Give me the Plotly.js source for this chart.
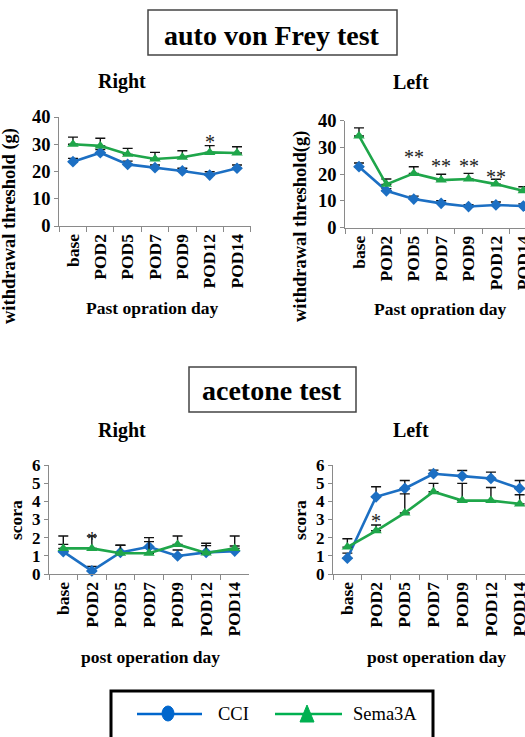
<!DOCTYPE html>
<html>
<head>
<meta charset="utf-8">
<script src="https://cdn.plot.ly/plotly-3.0.1.min.js"></script>
<style>
html,body{margin:0;padding:0;overflow:hidden;background:#fff;}
#chart{width:560px;height:737px;}
</style>
</head>
<body>
<div id="chart"></div>
<script>
// ---------- data ----------
const categories = ['base','POD2','POD5','POD7','POD9','POD12','POD14'];

const vfRightCCI      = [23.6, 26.9, 22.6, 21.4, 20.2, 18.7, 21.2];
const vfRightCCIErr   = [1.2, 1.2, 1.2, 1.0, 1.0, 1.2, 1.2];
const vfRightSema     = [30.0, 29.4, 26.3, 24.6, 25.2, 27.0, 26.8];
const vfRightSemaErr  = [2.6, 2.8, 2.2, 2.4, 2.4, 2.5, 2.3];

const vfLeftCCI       = [22.8, 13.8, 10.7, 9.1, 7.9, 8.5, 8.1];
const vfLeftCCIErr    = [1.4, 0.8, 1.1, 1.0, 0.7, 1.1, 0.8];
const vfLeftSema      = [34.3, 16.2, 20.3, 17.8, 18.2, 16.3, 13.8];
const vfLeftSemaErr   = [3.0, 2.0, 2.5, 2.2, 2.1, 1.8, 1.5];

const acRightCCI      = [1.23, 0.17, 1.19, 1.50, 0.99, 1.19, 1.26];
const acRightCCIErr   = [0.40, 0.25, 0.39, 0.50, 0.33, 0.50, 0.28];
const acRightSema     = [1.41, 1.41, 1.14, 1.14, 1.63, 1.16, 1.41];
const acRightSemaErr  = [0.68, 0.68, 0.44, 0.64, 0.46, 0.40, 0.68];

const acLeftCCI       = [0.87, 4.25, 4.71, 5.52, 5.39, 5.26, 4.71];
const acLeftCCIErr    = [0.28, 0.55, 0.44, 0.20, 0.31, 0.35, 0.44];
const acLeftSema      = [1.48, 2.38, 3.36, 4.53, 4.04, 4.04, 3.86];
const acLeftSemaErr   = [0.46, 0.32, 1.05, 0.46, 0.95, 0.72, 0.50];

// significance marks
const vfRightStarCats = ['POD12'];
const vfRightStarY    = [31.0];
const vfLeftStarCats  = ['POD5','POD7','POD9','POD12'];
const vfLeftStarY     = [26.4, 22.9, 22.9, 19.1];
const acRightStarCats = ['POD2'];
const acRightStarY    = [1.92];
const acLeftStarCats  = ['POD2'];
const acLeftStarY     = [2.9];

// ---------- layout helpers ----------
const W = 560, H = 737;
const px = x => x / W;
const py = y => 1 - y / H;
const FONT = 'Liberation Serif';
const BLUE = '#1c6fc3', GREEN = '#1fa64a', AXC = '#8a8a8a';

function mk(y, err, name, color, symbol, size, xa, ya) {
  return {
    type: 'scatter', mode: 'lines+markers', x: categories, y: y, name: name,
    xaxis: xa, yaxis: ya, showlegend: false, cliponaxis: false,
    line: {color: color, width: 2.6},
    marker: {symbol: symbol, size: size, color: color},
    error_y: {type: 'data', symmetric: false, array: err,
              arrayminus: err.map(() => 0), color: '#111', thickness: 1.4, width: 5}
  };
}

const data = [
  mk(vfRightCCI, vfRightCCIErr, 'CCI', BLUE, 'diamond', 9, 'x', 'y'),
  mk(vfRightSema, vfRightSemaErr, 'Sema3A', GREEN, 'triangle-up', 10, 'x', 'y'),
  mk(vfLeftCCI, vfLeftCCIErr, 'CCI', BLUE, 'diamond', 9, 'x2', 'y2'),
  mk(vfLeftSema, vfLeftSemaErr, 'Sema3A', GREEN, 'triangle-up', 10, 'x2', 'y2'),
  mk(acRightCCI, acRightCCIErr, 'CCI', BLUE, 'diamond', 9, 'x3', 'y3'),
  mk(acRightSema, acRightSemaErr, 'Sema3A', GREEN, 'triangle-up', 10, 'x3', 'y3'),
  mk(acLeftCCI, acLeftCCIErr, 'CCI', BLUE, 'diamond', 9, 'x4', 'y4'),
  mk(acLeftSema, acLeftSemaErr, 'Sema3A', GREEN, 'triangle-up', 10, 'x4', 'y4')
];

function xax(l, r, anchor) {
  return {
    domain: [px(l), px(r)], anchor: anchor, type: 'category',
    range: [-0.5, 6.5], showline: true, linecolor: AXC, linewidth: 1,
    showgrid: false, zeroline: false, ticks: 'outside', ticklen: 5, tickcolor: AXC,
    tickson: 'boundaries', tickangle: -90,
    tickfont: {family: FONT, size: 17.5, color: '#000', weight: 'bold'}
  };
}
function yax(top, bottom, anchor, max, dtick, fs) {
  return {
    domain: [py(bottom), py(top)], anchor: anchor, range: [0, max], dtick: dtick,
    showline: true, linecolor: AXC, linewidth: 1, showgrid: false, zeroline: false,
    ticks: 'outside', ticklen: 4, tickcolor: AXC,
    tickfont: {family: FONT, size: fs, color: '#000', weight: 'bold'}
  };
}

const annotations = [];
function txt(x, y, text, size, opts) {
  annotations.push(Object.assign({
    xref: 'paper', yref: 'paper', x: px(x), y: py(y), text: text, showarrow: false,
    xanchor: 'center', yanchor: 'middle', borderpad: 0,
    font: {family: FONT, size: size, color: '#000', weight: 'bold'}
  }, opts || {}));
}
function stars(cats, ys, label, xr, yr) {
  cats.forEach((c, i) => annotations.push({
    xref: xr, yref: yr, x: c, y: ys[i], text: label, showarrow: false,
    xanchor: 'center', yanchor: 'middle', borderpad: 0,
    font: {family: FONT, size: 20, color: '#222'}
  }));
}

// boxed section titles
txt(272, 35, 'auto von Frey test', 28);
txt(272, 390, 'acetone test', 28);
// panel titles
txt(122, 82, 'Right', 20);
txt(411, 82, 'Left', 20);
txt(122, 430, 'Right', 20);
txt(411, 430, 'Left', 20);
// axis titles
txt(152, 308, 'Past opration day', 17.5);
txt(440, 309, 'Past opration day', 17.5);
txt(150, 657, 'post operation day', 17.5);
txt(436, 657, 'post operation day', 17.5);
txt(10, 226, 'withdrawal threshold (g)', 18.5, {textangle: -90});
txt(300, 227, 'withdrawal threshold(g)', 18.5, {textangle: -90});
txt(16, 520, 'scora', 17.5, {textangle: -90});
txt(300, 520, 'scora', 17.5, {textangle: -90});
// legend text
txt(217, 714, 'CCI', 18.5, {xanchor: 'left', font: {family: FONT, size: 18.5, color: '#000'}});
txt(352, 714, 'Sema3A', 18.5, {xanchor: 'left', font: {family: FONT, size: 18.5, color: '#000'}});

stars(vfRightStarCats, vfRightStarY, '*', 'x', 'y');
stars(vfLeftStarCats, vfLeftStarY, '**', 'x2', 'y2');
stars(acRightStarCats, acRightStarY, '*', 'x3', 'y3');
stars(acLeftStarCats, acLeftStarY, '*', 'x4', 'y4');

const shapes = [
  {type: 'rect', xref: 'paper', yref: 'paper', x0: px(148), x1: px(397), y0: py(55), y1: py(10),
   line: {color: '#444', width: 1.5}},
  {type: 'rect', xref: 'paper', yref: 'paper', x0: px(189), x1: px(356), y0: py(412), y1: py(367),
   line: {color: '#444', width: 1.5}},
  {type: 'rect', xref: 'paper', yref: 'paper', x0: px(111), x1: px(433), y0: py(760), y1: py(691),
   line: {color: '#000', width: 3}},
  // legend samples
  {type: 'line', xref: 'paper', yref: 'paper', x0: px(137), x1: px(202), y0: py(714), y1: py(714),
   line: {color: '#0066cc', width: 2.6}},
  {type: 'circle', xref: 'paper', yref: 'paper', x0: px(162), x1: px(174), y0: py(721), y1: py(706),
   fillcolor: '#0066cc', line: {color: '#0066cc', width: 1}},
  {type: 'line', xref: 'paper', yref: 'paper', x0: px(275), x1: px(342), y0: py(714), y1: py(714),
   line: {color: '#00b050', width: 2.6}},
  {type: 'path', xref: 'paper', yref: 'paper',
   path: `M ${px(300)} ${py(722)} L ${px(314)} ${py(722)} L ${px(307)} ${py(705)} Z`,
   fillcolor: '#00b050', line: {color: '#00b050', width: 1}}
];

const layout = {
  width: W, height: H, margin: {l: 0, r: 0, t: 0, b: 0},
  paper_bgcolor: '#fff', plot_bgcolor: '#fff', showlegend: false,
  xaxis: xax(59.3, 250.7, 'y'),   yaxis: yax(117, 226, 'x', 40, 10, 18.5),
  xaxis2: xax(345.3, 537, 'y2'),  yaxis2: yax(120.7, 227.7, 'x2', 40, 10, 18.5),
  xaxis3: xax(49, 249, 'y3'),     yaxis3: yax(465, 574, 'x3', 6, 1, 17),
  xaxis4: xax(333, 534, 'y4'),    yaxis4: yax(465, 574, 'x4', 6, 1, 17),
  annotations: annotations, shapes: shapes
};

Plotly.newPlot('chart', data, layout, {staticPlot: true, displayModeBar: false});
</script>
</body>
</html>
